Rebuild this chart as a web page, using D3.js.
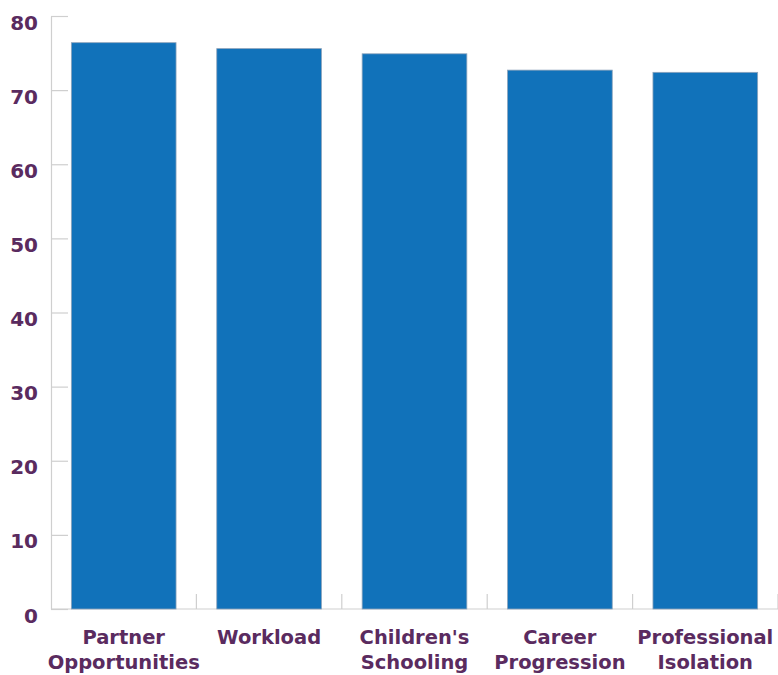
<!DOCTYPE html>
<html>
<head>
<meta charset="utf-8">
<script src="https://cdn.jsdelivr.net/npm/d3@7"></script>
<style>
  body { margin: 0; background: #fff; }
  svg { display: block; }
</style>
</head>
<body>
<figure id="bar" style="margin:0"></figure>
<script>
// data
const categories = [["Partner", "Opportunities"], ["Workload"], ["Children's", "Schooling"], ["Career", "Progression"], ["Professional", "Isolation"]];
const values = [76.4, 75.6, 74.9, 72.7, 72.4];
const yTicks = [0, 10, 20, 30, 40, 50, 60, 70, 80];

const width = 778, height = 675;
const plot = {left: 51, right: 778, top: 16, bottom: 609};
const textColor = "#5a2b5f";
const gridColor = "#cfcfcf";

const svg = d3.select("figure#bar")
  .append("svg")
  .attr("width", width)
  .attr("height", height);

const keys = categories.map(c => c.join(" "));

const x = d3.scaleBand()
  .domain(keys)
  .range([plot.left, plot.right])
  .paddingInner(0.28)
  .paddingOuter(0.14);

const y = d3.scaleLinear()
  .domain([0, 80])
  .range([plot.bottom, plot.top]);

// y axis: ticks pointing inward
const yAxis = svg.append("g")
  .attr("transform", `translate(${plot.left},0)`)
  .call(d3.axisRight(y).tickValues(yTicks).tickSize(17).tickPadding(0).tickSizeOuter(0));
yAxis.select(".domain").attr("stroke", gridColor).attr("stroke-width", 1.2);
yAxis.selectAll(".tick line").attr("stroke", gridColor).attr("stroke-width", 1.2);
yAxis.selectAll(".tick text")
  .attr("x", -13)
  .attr("dy", "0.65em")
  .attr("text-anchor", "end")
  .style("font-family", "'DejaVu Sans', sans-serif")
  .style("font-weight", "bold")
  .style("font-size", "20px")
  .attr("fill", textColor);

// x axis baseline with category boundary ticks
const xAxis = svg.append("g");
xAxis.append("line")
  .attr("x1", plot.left).attr("x2", plot.right)
  .attr("y1", plot.bottom).attr("y2", plot.bottom)
  .attr("stroke", gridColor).attr("stroke-width", 1.2);
const step = x.step();
xAxis.selectAll("line.sep")
  .data(keys.slice(1).concat(["end"]))
  .enter()
  .append("line")
  .attr("class", "sep")
  .attr("x1", (d, i) => x(keys[0]) - x.paddingOuter() * step + step * (i + 1))
  .attr("x2", (d, i) => x(keys[0]) - x.paddingOuter() * step + step * (i + 1))
  .attr("y1", plot.bottom)
  .attr("y2", plot.bottom - 15)
  .attr("stroke", gridColor).attr("stroke-width", 1.2);

// bars
svg.selectAll("rect.bar")
  .data(values)
  .enter()
  .append("rect")
  .attr("class", "bar")
  .attr("x", (d, i) => x(keys[i]))
  .attr("y", d => y(d))
  .attr("width", x.bandwidth())
  .attr("height", d => y(0) - y(d))
  .attr("fill", "#1172ba")
  .attr("stroke", "#8da3bb")
  .attr("stroke-width", 0.8);

// category labels
const labels = svg.selectAll("text.cat")
  .data(categories)
  .enter()
  .append("text")
  .attr("class", "cat")
  .attr("x", (d, i) => x(keys[i]) + x.bandwidth() / 2)
  .attr("y", 644)
  .attr("text-anchor", "middle")
  .style("font-family", "'DejaVu Sans', sans-serif")
  .style("font-weight", "bold")
  .style("font-size", "19.5px")
  .attr("fill", textColor);
labels.selectAll("tspan")
  .data(d => d)
  .enter()
  .append("tspan")
  .attr("x", function() { return d3.select(this.parentNode).attr("x"); })
  .attr("dy", (d, i) => i === 0 ? 0 : 25)
  .text(d => d);
</script>
</body>
</html>
